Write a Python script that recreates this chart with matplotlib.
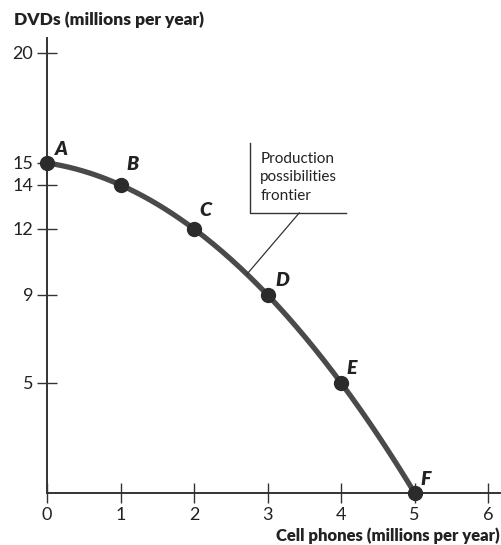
import numpy as np
import matplotlib.pyplot as plt

# data
points = ["A", "B", "C", "D", "E", "F"]
phones = [0, 1, 2, 3, 4, 5]
dvds = [15, 14, 12, 9, 5, 0]
y_ticks = [5, 9, 12, 14, 15, 20]
x_ticks = [0, 1, 2, 3, 4, 5, 6]

plt.rcParams['font.family'] = ['Lato', 'DejaVu Sans']

fig = plt.figure(figsize=(5.02, 5.45), dpi=100)
ax = fig.add_axes([47/502, 52/545, 453/502, 455/545])
ax.set_xlim(0, 6.16)
ax.set_ylim(0, 20.68)

# smooth frontier through the points
coef = np.polyfit(phones, dvds, 2)
xs = np.linspace(phones[0], phones[-1], 200)
ax.plot(xs, np.polyval(coef, xs), color='#4a4a4a', lw=3.8, solid_capstyle='round', zorder=2)
ax.plot(phones, dvds, 'o', color='#2b2b2b', ms=10, zorder=3, clip_on=False)

# point letters
offsets = [(0.2, 0.6), (0.17, 0.95), (0.16, 0.85), (0.2, 0.65), (0.15, 0.65), (0.15, 0.6)]
for name, x, y, (dx, dy) in zip(points, phones, dvds, offsets):
    ax.text(x + dx, y + dy, name, fontsize=14, fontweight='heavy', fontstyle='italic',
            color='#222222', ha='center', va='center')

# label box and leader line
ax.plot([2.76, 2.76, 4.07], [15.9, 12.73, 12.73], color='#333333', lw=1.0)
ax.plot([3.43, 2.72], [12.73, 9.95], color='#333333', lw=0.9)
ax.text(2.9, 15.5, "Production\npossibilities\nfrontier", fontsize=11, color='#222222',
        ha='left', va='top', linespacing=1.4)

# axes styling
for s in ['top', 'right']:
    ax.spines[s].set_visible(False)
for s in ['left', 'bottom']:
    ax.spines[s].set_color('#333333')
    ax.spines[s].set_linewidth(1.4)
ax.set_xticks(x_ticks)
ax.set_yticks(y_ticks)
ax.tick_params(direction='inout', length=14, width=1.0, colors='#333333',
               labelsize=13, labelcolor='#222222')
ax.tick_params(axis='y', pad=3)
ax.tick_params(axis='x', pad=3)

fig.text(14/502, 1 - 20/545, "DVDs (millions per year)", fontsize=12.5, fontweight='heavy',
         color='#222222', ha='left', va='center')
fig.text(500/502, 1 - 536/545, "Cell phones (millions per year)", fontsize=12, fontweight='heavy',
         color='#222222', ha='right', va='center')

fig.savefig("out.png", dpi=100)
